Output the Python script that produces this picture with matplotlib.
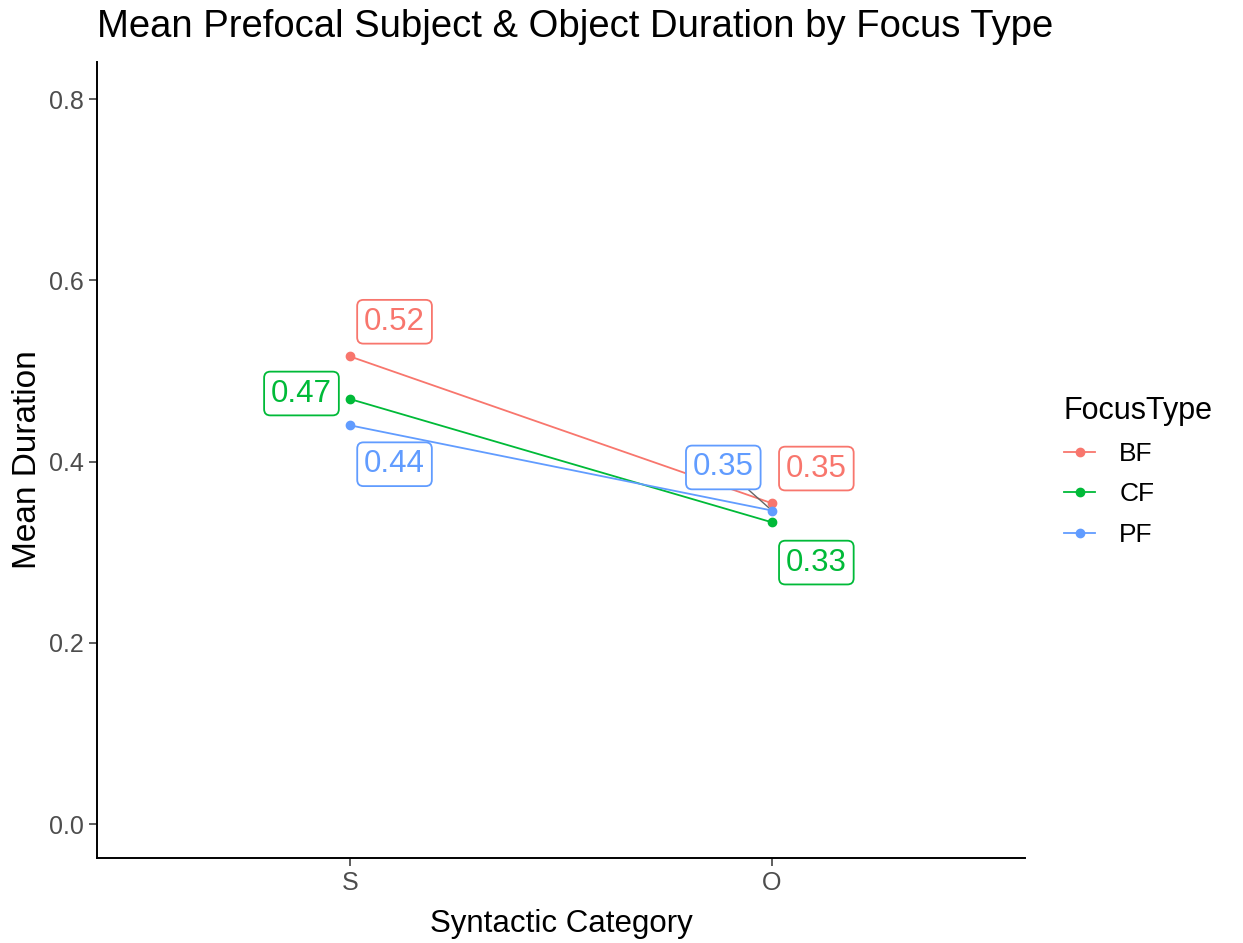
import matplotlib
matplotlib.use("Agg")
import matplotlib.pyplot as plt
from matplotlib.lines import Line2D

plt.rcParams['font.family'] = ['Liberation Sans', 'DejaVu Sans']

# data
categories = ["S", "O"]
focus_types = ["BF", "CF", "PF"]
bf_means = [0.516, 0.354]
cf_means = [0.469, 0.333]
pf_means = [0.440, 0.346]
series = {"BF": bf_means, "CF": cf_means, "PF": pf_means}

colors = {"BF": "#F8766D", "CF": "#00BA38", "PF": "#619CFF"}

# repel-style label offsets (points), and whether a segment is drawn
label_offsets = {
    "BF": [(32, 25), (32, 25)],
    "CF": [(-35, 4), (32, -29)],
    "PF": [(32, -28), (-35, 31)],
}
label_segment = {"BF": [False, False], "CF": [False, False], "PF": [False, True]}

fig = plt.figure(figsize=(12.43, 9.43), dpi=100)
ax = fig.add_axes([97 / 1243, 1 - 858 / 943, 928 / 1243, 796 / 943])

x = list(range(1, len(categories) + 1))
for ft in focus_types:
    c = colors[ft]
    ax.plot(x, series[ft], color=c, lw=1.3, marker="o", ms=6, zorder=3)
    for i, v in enumerate(series[ft]):
        dx, dy = label_offsets[ft][i]
        arrow = dict(arrowstyle="-", color="#666666", lw=1.0, shrinkA=0, shrinkB=3) if label_segment[ft][i] else None
        ax.annotate(f"{v:.2f}", (x[i], v), xytext=(dx, dy), textcoords="offset points",
                    ha="center", va="center", fontsize=22.5, color=c,
                    bbox=dict(boxstyle="round,pad=0.22,rounding_size=0.2", fc="white", ec=c, lw=1.3),
                    arrowprops=arrow, zorder=4)

ax.set_xlim(0.4, 2.6)
ax.set_ylim(-0.0375, 0.841)
ax.set_xticks(x)
ax.set_xticklabels(categories)
ax.set_yticks([0.0, 0.2, 0.4, 0.6, 0.8])
ax.set_yticklabels(["0.0", "0.2", "0.4", "0.6", "0.8"])
ax.tick_params(axis="both", colors="#333333", labelcolor="#4D4D4D", labelsize=18, length=6, width=1.1)
for side in ["top", "right"]:
    ax.spines[side].set_visible(False)
for side in ["left", "bottom"]:
    ax.spines[side].set_linewidth(1.4)
    ax.spines[side].set_color("black")

ax.set_xlabel("Syntactic Category", fontsize=22.5, labelpad=10)
ax.set_ylabel("Mean Duration", fontsize=24, labelpad=4)

fig.text(97 / 1243, 1 - 27 / 943, "Mean Prefocal Subject & Object Duration by Focus Type",
         fontsize=27.5, ha="left", va="center")

handles = [Line2D([0], [0], color=colors[ft], lw=1.3, marker="o", ms=6) for ft in focus_types]
leg = fig.legend(handles, focus_types, title="FocusType", loc="upper left",
                 bbox_to_anchor=(1040 / 1243, 1 - 372 / 943), frameon=False,
                 fontsize=19, title_fontsize=22, handlelength=1.2, labelspacing=0.62,
                 handletextpad=0.9)
leg._legend_box.align = "left"

fig.savefig("out.png", dpi=100)
